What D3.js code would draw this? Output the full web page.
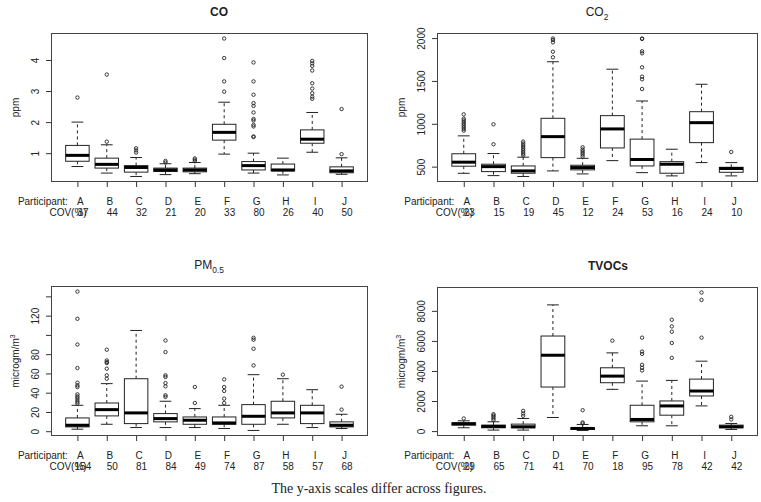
<!DOCTYPE html>
<html><head><meta charset="utf-8">
<script src="https://cdn.jsdelivr.net/npm/d3@7"></script>
<style>
body{margin:0;background:#fff}
svg text{font-family:"Liberation Sans",Arial,Helvetica,sans-serif;fill:#222}
</style>
</head><body>
<svg id="chart" width="761" height="502"></svg>
<script>
const participants = ["A","B","C","D","E","F","G","H","I","J"];

// [lower whisker, Q1, median, Q3, upper whisker]
const coStats = [
  [0.57,0.74,0.93,1.25,2.00],[0.36,0.52,0.64,0.84,1.27],[0.25,0.39,0.54,0.60,0.86],
  [0.31,0.41,0.46,0.52,0.66],[0.34,0.40,0.46,0.52,0.70],[0.97,1.42,1.67,1.93,2.64],
  [0.36,0.46,0.60,0.73,1.00],[0.30,0.43,0.46,0.65,0.84],[1.03,1.32,1.45,1.75,2.31],
  [0.32,0.37,0.43,0.56,0.85]];
const coOutliers = [
  [2.79],[1.37,3.53],[1.02,1.09,1.16],[0.70,0.75],[0.74,0.79,0.83],[2.98,3.31,4.06,4.69],
  [1.52,1.54,1.86,1.91,2.05,2.10,2.31,2.52,2.61,2.88,3.31,3.92],[],
  [2.75,2.82,2.93,3.08,3.25,3.66,3.81,3.89,3.97],[0.97,2.42]];
const coCov = [37,44,32,21,20,33,80,26,40,50];
const coTicks = [1,2,3,4];
const coTickLabels = ["1","2","3","4"];

const co2Stats = [
  [422,505,552,650,859],[395,442,500,528,653],[385,423,450,508,610],
  [450,605,850,1064,1724],[415,462,489,516,597],[570,718,940,1095,1637],
  [430,508,583,821,1266],[392,423,528,558,703],[547,780,1013,1141,1461],
  [392,434,478,492,547]];
const co2Outliers = [
  [920,940,960,980,1000,1020,1040,1060,1110],[761,994],
  [630,650,670,690,710,730,750,770,792],[1776,1841,1950,1977,1995],
  [617,640,660,680,700,726],[],[1406,1519,1550,1659,1822,1846,1990,1995],
  [],[],[671]];
const co2Cov = [23,15,19,45,12,24,53,16,24,10];
const co2Ticks = [500,1000,1500,2000];
const co2TickLabels = ["500","1000","1500","2000"];

const pmStats = [
  [2.1,4.5,6.2,13.8,26.9],[7.2,15.9,22.4,29.3,49.4],[3.8,7.9,19.0,54.5,104.6],
  [3.8,9.7,13.1,18.3,31.1],[3.8,7.2,11.4,14.8,23.5],[2.8,7.2,8.6,14.8,26.9],
  [0.8,7.2,15.5,27.6,58.7],[7.2,13.8,19.0,31.1,54.5],[3.8,7.9,19.0,26.9,43.1],
  [2.8,4.5,6.2,9.7,17.6]];
const pmOutliers = [
  [28.7,30.4,32.4,34.5,36.2,38.3,45.9,47.6,50.4,65.6,90,116.7,145],
  [54.5,58,64.9,70.8,71.8,73.5,84.6],[],
  [35.6,37.3,46.6,50,56.3,58,82.2,94.2],[29.3,45.9],[29.3,33.8,41.8,45.9,53.8],
  [68.3,85.6,95,97],[58.7],[],[22.4,46.3]];
const pmCov = [154,50,81,84,49,74,87,58,57,68];
const pmTicks = [0,20,40,60,80,100,120,140];
const pmTickLabels = ["0","20","40","60","80","","120",""];

const tvocStats = [
  [220,397,485,551,683],[66,220,309,397,617],[66,220,287,463,838],
  [904,2931,5047,6325,8397],[40,110,176,220,441],[2777,3218,3658,4212,5203],
  [352,617,773,1719,3326],[352,1058,1675,2005,3372],[1675,2336,2666,3459,4651],
  [110,220,287,397,507]];
const tvocOutliers = [
  [838],[727,838,948,1036,1124],[1014,1168,1344],[],[507,573,1389],[6017],
  [4033,4212,4409,5136,5290,6215],[4872,5863,6612,6964,7405],[6215,8728,9220],[773,947]];
const tvocCov = [29,65,71,41,70,18,95,78,42,42];
const tvocTicks = [0,2000,4000,6000,8000];
const tvocTickLabels = ["0","2000","4000","6000","8000"];

const footnote = "The y-axis scales differ across figures.";

const panels = [
  {stats:coStats,out:coOutliers,cov:coCov,ticks:coTicks,tl:coTickLabels,
   f:{l:51,r:368,t:33,b:182}, title:[["CO",""]], bold:true, tx:219, ylab:[["ppm",""]]},
  {stats:co2Stats,out:co2Outliers,cov:co2Cov,ticks:co2Ticks,tl:co2TickLabels,
   f:{l:437,r:758,t:33,b:182}, title:[["CO",""],["2","sub"]], bold:false, tx:597, ylab:[["ppm",""]]},
  {stats:pmStats,out:pmOutliers,cov:pmCov,ticks:pmTicks,tl:pmTickLabels,
   f:{l:51,r:368,t:286,b:436}, title:[["PM",""],["0.5","sub"]], bold:false, tx:209, ylab:[["microgm/m",""],["3","sup"]]},
  {stats:tvocStats,out:tvocOutliers,cov:tvocCov,ticks:tvocTicks,tl:tvocTickLabels,
   f:{l:437,r:758,t:287,b:436}, title:[["TVOCs",""]], bold:true, tx:608, ylab:[["microgm/m",""],["3","sup"]]}
];

const svg = d3.select("#chart");

function richText(sel, parts, size){
  parts.forEach(([s,k])=>{
    const ts = sel.append("tspan").text(s);
    if(k==="sub"){ ts.attr("font-size",size*0.7).attr("dy",size*0.3); }
    if(k==="sup"){ ts.attr("font-size",size*0.7).attr("dy",-size*0.4); }
  });
}

panels.forEach(p=>{
  const f = p.f;
  const g = svg.append("g");
  const x = d3.scaleLinear().domain([0.1,10.9]).range([f.l,f.r]);
  const all = [];
  p.stats.forEach((s,i)=>{ all.push(s[0],s[4]); p.out[i].forEach(v=>all.push(v)); });
  const lo = d3.min(all), hi = d3.max(all), pad = (hi-lo)*0.04;
  const y = d3.scaleLinear().domain([lo-pad,hi+pad]).range([f.b,f.t]);

  // y axis
  const ya = g.append("g").attr("transform",`translate(${f.l},0)`)
    .call(d3.axisLeft(y).tickValues(p.ticks).tickSize(5).tickFormat((d,i)=>p.tl[i]));
  ya.select(".domain").remove();
  ya.selectAll(".tick line").attr("stroke","#333");
  ya.selectAll(".tick text").attr("transform","rotate(-90)").attr("x",0).attr("y",-12)
    .attr("dy",0).attr("text-anchor","middle").attr("font-size",10).attr("fill","#222");

  // x axis ticks
  const xa = g.append("g").attr("transform",`translate(0,${f.b})`)
    .call(d3.axisBottom(x).tickValues(d3.range(1,11)).tickSize(5).tickFormat(""));
  xa.select(".domain").remove();
  xa.selectAll(".tick line").attr("stroke","#333");

  const hw = x(1.4)-x(1);
  const box = g.selectAll(".bx").data(p.stats).enter().append("g");
  box.each(function(s,i){
    const b = d3.select(this), cx = x(i+1);
    b.append("line").attr("x1",cx).attr("x2",cx).attr("y1",y(s[3])).attr("y2",y(s[4]))
      .attr("stroke","#222").attr("stroke-dasharray","3,3");
    b.append("line").attr("x1",cx).attr("x2",cx).attr("y1",y(s[1])).attr("y2",y(s[0]))
      .attr("stroke","#222").attr("stroke-dasharray","3,3");
    [s[0],s[4]].forEach(v=>{
      b.append("line").attr("x1",cx-hw/2).attr("x2",cx+hw/2).attr("y1",y(v)).attr("y2",y(v))
        .attr("stroke","#222");
    });
    b.append("rect").attr("x",cx-hw).attr("width",2*hw).attr("y",y(s[3]))
      .attr("height",y(s[1])-y(s[3])).attr("fill","#fff").attr("stroke","#222");
    b.append("line").attr("x1",cx-hw).attr("x2",cx+hw).attr("y1",y(s[2])).attr("y2",y(s[2]))
      .attr("stroke","#000").attr("stroke-width",3);
    b.selectAll("circle").data(p.out[i]).enter().append("circle")
      .attr("cx",cx).attr("cy",v=>y(v)).attr("r",1.7)
      .attr("fill","none").attr("stroke","#222").attr("stroke-width",0.9);
  });

  // frame
  g.append("rect").attr("x",f.l+0.5).attr("y",f.t+0.5).attr("width",f.r-f.l-1).attr("height",f.b-f.t-1)
    .attr("fill","none").attr("stroke","#444").attr("stroke-width",1);

  // title
  const tt = g.append("text").attr("x",p.tx).attr("y",f.t-17).attr("text-anchor","middle")
    .attr("font-size",12).attr("font-weight",p.bold?"bold":"normal");
  richText(tt,p.title,12);

  // y label
  const yl = g.append("text").attr("transform",`translate(${f.l-32},${(f.t+f.b)/2}) rotate(-90)`)
    .attr("text-anchor","middle").attr("font-size",10);
  richText(yl,p.ylab,10);

  // participant row
  const r1 = f.b+22.5, r2 = f.b+34;
  g.append("text").attr("x",x(1)-9.5).attr("y",r1).attr("text-anchor","end").attr("font-size",10).text("Participant:");
  g.selectAll(".pl").data(participants).enter().append("text")
    .attr("x",(d,i)=>x(i+1)+3).attr("y",r1).attr("text-anchor","middle").attr("font-size",10).text(d=>d);
  g.append("text").attr("x",x(1)-28).attr("y",r2).attr("text-anchor","start").attr("font-size",10).text("COV(%)");
  g.selectAll(".cv").data(p.cov).enter().append("text")
    .attr("x",(d,i)=>x(i+1)+5.5).attr("y",r2).attr("text-anchor","middle").attr("font-size",10).text(d=>d);
});

svg.append("text").attr("x",379).attr("y",493).attr("text-anchor","middle")
  .style("font-family","'Liberation Serif','Times New Roman',serif").attr("font-size",14)
  .attr("fill","#111").text(footnote);
</script>
</body></html>
